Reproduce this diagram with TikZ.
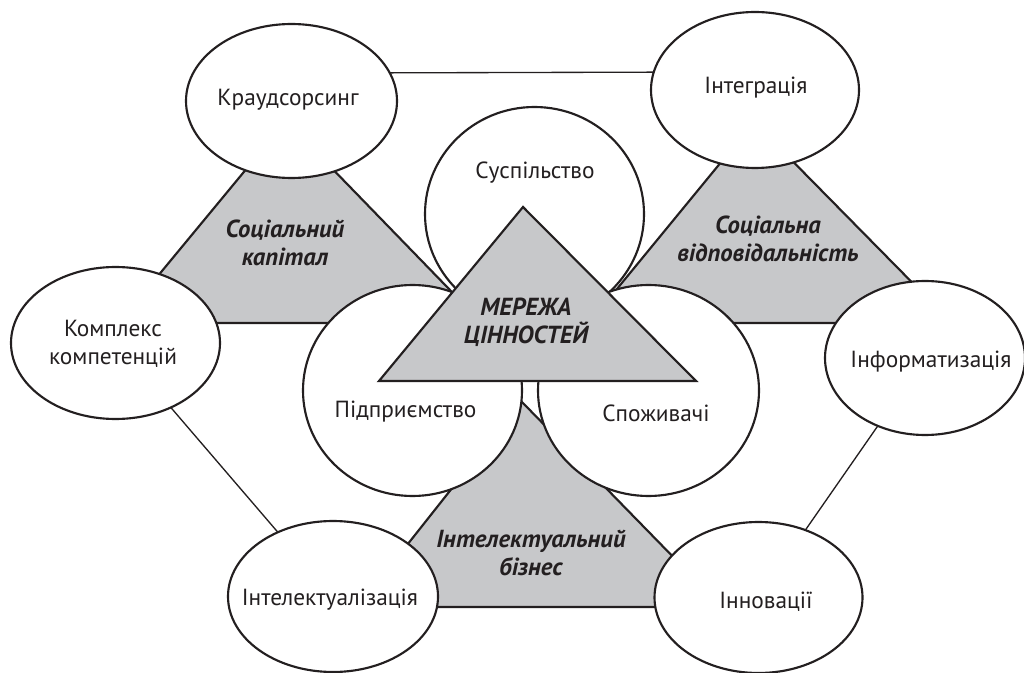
\documentclass[tikz,border=0pt]{standalone}
\usepackage{fontspec}
\setmainfont{PT Sans}
\usetikzlibrary{shapes.geometric}
\definecolor{ink}{HTML}{231F20}
\definecolor{shade}{HTML}{C7C8CA}
\tikzset{
  oval/.style={ellipse, draw=ink, line width=1.6pt, fill=white, inner sep=0pt, outer sep=0pt},
  wedge/.style={draw=ink, line width=1.6pt, fill=shade, line join=miter},
  link/.style={draw=ink, line width=1pt},
  txt/.style={inner sep=0pt, align=center, font=\fontsize{17.5}{21}\selectfont, text=ink},
  btxt/.style={inner sep=0pt, align=center, font=\fontsize{18.5}{21}\selectfont\bfseries\itshape, text=ink}
}
\begin{document}
\begin{tikzpicture}[x=0.75pt,y=-0.75pt]
\useasboundingbox (0,0) rectangle (1024,673);
% triangle vertices
\coordinate (La) at (286,121); \coordinate (Lb) at (119,323); \coordinate (Lc) at (482,323);
\coordinate (Ra) at (754,122); \coordinate (Rb) at (589,323); \coordinate (Rc) at (952,323);
\coordinate (Ba) at (521,401); \coordinate (Bb) at (358,607); \coordinate (Bc) at (722,607);
\coordinate (Ca) at (523,207); \coordinate (Cb) at (379,381); \coordinate (Cc) at (696,381);
% side gray triangles
\draw[wedge] (La) -- (Lb) -- (Lc) -- cycle;
\draw[wedge] (Ra) -- (Rb) -- (Rc) -- cycle;
\draw[wedge] (Ba) -- (Bb) -- (Bc) -- cycle;
% outer ellipses
\node[oval, minimum width=158.25pt, minimum height=115.5pt] (kr) at (291.5,101) {};
\node[oval, minimum width=156pt, minimum height=117pt] (in) at (755,90) {};
\node[oval, minimum width=156.75pt, minimum height=114pt] (ko) at (115.5,343) {};
\node[oval, minimum width=150pt, minimum height=115.5pt] (if) at (925,358) {};
\node[oval, minimum width=157.5pt, minimum height=113.25pt] (il) at (333,596.5) {};
\node[oval, minimum width=156pt, minimum height=113.25pt] (inn) at (758.5,597.5) {};
% connectors
\draw[link] (kr.16.5) -- (in.170);
\draw[link] (ko) -- (il);
\draw[link] (if) -- (inn);
% central circles
\node[oval, minimum width=164.25pt, minimum height=160.5pt] (su) at (534.5,214) {};
\node[oval, minimum width=164.25pt, minimum height=158.25pt] (pi) at (412.5,390.5) {};
\node[oval, minimum width=165.75pt, minimum height=158.25pt] (sp) at (648.5,390.5) {};
% central triangle
\draw[wedge] (Ca) -- (Cb) -- (Cc) -- cycle;
% texts
\node[txt] (t-kr) at (288,100) {Краудсорсинг};
\node[txt] (t-in) at (756,88) {Інтеграція};
\node[txt] (t-ko) at (113,344) {Комплекс\\компетенцій};
\node[txt] (t-if) at (931,362) {Інформатизація};
\node[txt] (t-il) at (330,600) {Інтелектуалізація};
\node[txt] (t-inn) at (766,602) {Інновації};
\node[txt] (t-su) at (535,173) {Суспільство};
\node[txt] (t-pi) at (405.5,412) {Підприємство};
\node[txt] (t-sp) at (656,413) {Споживачі};
\node[btxt] (t-sk) at (285,242.5) {Соціальний\\капітал};
\node[btxt] (t-sv) at (768,239) {Соціальна\\відповідальність};
\node[btxt] (t-mc) at (526,322.5) {МЕРЕЖА\\ЦІННОСТЕЙ};
\node[btxt] (t-ib) at (531,552.5) {Інтелектуальний\\бізнес};
\end{tikzpicture}
\end{document}
